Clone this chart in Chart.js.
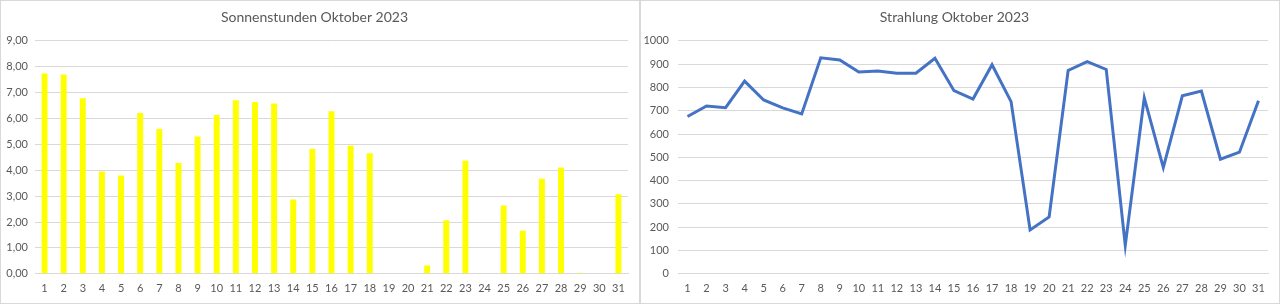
<!DOCTYPE html>
<html>
<head>
<meta charset="utf-8">
<script src="https://cdn.jsdelivr.net/npm/chart.js@4"></script>
<style>
  body { margin: 0; background: #fff; }
  .box { position: absolute; top: 0; width: 638px; height: 302px; border: 1px solid #d9d9d9; }
  #left { left: 0; }
  #right { left: 640px; width: 638px; }
</style>
</head>
<body>
<div class="box" id="left"><canvas id="sun-chart" width="638" height="302"></canvas></div>
<div class="box" id="right"><canvas id="rad-chart" width="638" height="302"></canvas></div>
<script>
const days = ["1", "2", "3", "4", "5", "6", "7", "8", "9", "10", "11", "12", "13", "14", "15", "16",
  "17", "18", "19", "20", "21", "22", "23", "24", "25", "26", "27", "28", "29", "30", "31"];
// Sonnenstunden pro Tag
const sunHours = [7.74, 7.70, 6.78, 3.95, 3.80, 6.21, 5.59, 4.28, 5.30, 6.13, 6.70, 6.64, 6.58, 2.87, 4.83, 6.28,
  4.95, 4.66, 0, 0, 0.32, 2.07, 4.37, 0, 2.64, 1.66, 3.67, 4.11, 0.04, 0, 3.07];
// Strahlung pro Tag
const radiation = [675, 720, 713, 827, 746, 712, 686, 927, 918, 866, 870, 861, 861, 925, 786, 750,
  897, 739, 188, 244, 873, 911, 877, 122, 755, 456, 764, 784, 492, 522, 743];

const sunTitle = "Sonnenstunden Oktober 2023";
const radTitle = "Strahlung Oktober 2023";

const textColor = "#595959";
const gridColor = "#d9d9d9";
Chart.defaults.font.family = "Lato, 'Open Sans', sans-serif";
Chart.defaults.color = textColor;

const makeTitle = (text) => ({
  display: true,
  text: text,
  color: textColor,
  font: { size: 14, weight: "normal" },
  padding: { top: 8, bottom: 15 },
});

const xAxis = {
  offset: true,
  grid: { display: false, drawTicks: false },
  border: { display: true, color: gridColor },
  ticks: { color: textColor, font: { size: 11 }, padding: 8, maxRotation: 0, autoSkip: false },
};

let sunChart = new Chart(document.getElementById("sun-chart"), {
  type: "bar",
  data: {
    labels: days,
    datasets: [{
      label: "Sonnenstunden",
      data: sunHours,
      backgroundColor: "#ffff00",
      barPercentage: 0.31,
      categoryPercentage: 1,
    }],
  },
  options: {
    responsive: false,
    animation: false,
    layout: { padding: { left: 0, right: 11, top: 0, bottom: 0 } },
    plugins: { legend: { display: false }, tooltip: { enabled: false }, title: makeTitle(sunTitle) },
    scales: {
      x: xAxis,
      y: {
        min: 0,
        max: 9,
        ticks: {
          stepSize: 1,
          color: textColor,
          font: { size: 11 },
          padding: 7,
          callback: (v) => v.toFixed(2).replace(".", ","),
        },
        grid: { color: gridColor, drawTicks: false },
        border: { display: false },
        afterFit: (scale) => { scale.width = 34; },
      },
    },
  },
});

let radChart = new Chart(document.getElementById("rad-chart"), {
  type: "line",
  data: {
    labels: days,
    datasets: [{
      label: "Strahlung",
      data: radiation,
      borderColor: "#4472c4",
      borderWidth: 3,
      pointRadius: 0,
      tension: 0,
      fill: false,
    }],
  },
  options: {
    responsive: false,
    animation: false,
    layout: { padding: { left: 0, right: 11, top: 0, bottom: 0 } },
    plugins: { legend: { display: false }, tooltip: { enabled: false }, title: makeTitle(radTitle) },
    scales: {
      x: xAxis,
      y: {
        min: 0,
        max: 1000,
        ticks: { stepSize: 100, color: textColor, font: { size: 11 }, padding: 9, callback: (v) => String(v) },
        grid: { color: gridColor, drawTicks: false },
        border: { display: false },
        afterFit: (scale) => { scale.width = 37; },
      },
    },
  },
});
</script>
</body>
</html>
